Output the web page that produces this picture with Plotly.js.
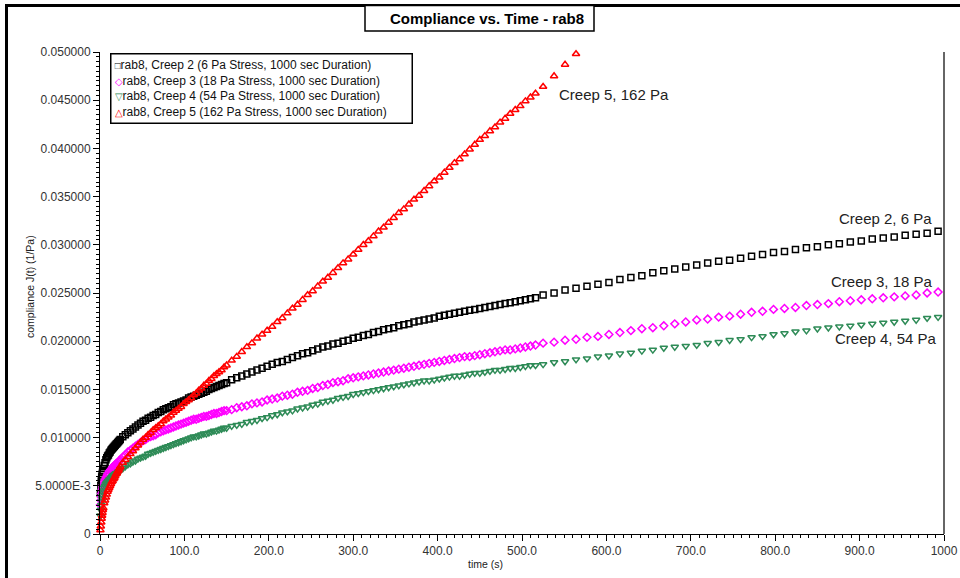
<!DOCTYPE html>
<html>
<head>
<meta charset="utf-8">
<script src="https://cdn.plot.ly/plotly-3.0.1.min.js"></script>
<style>html,body{margin:0;padding:0;background:#fff;overflow:hidden;}</style>
</head>
<body>
<div id="chart" style="width:960px;height:578px;"></div>
<script>
// ---------- DATA ----------
const time = [
  0.5, 1, 1.5, 2, 2.5, 3, 3.5, 4, 5, 6, 7, 8, 9, 10, 11, 12, 13, 14, 15, 16, 17, 18, 19, 20, 21, 22, 23,
  24, 27, 30, 33, 36, 39, 42, 45, 48, 51,
  54, 57, 60, 63, 66, 69, 72, 75, 78, 81,
  84, 87, 90, 93, 96, 99, 102, 105, 108, 111,
  114, 117, 120, 123, 126, 129, 132, 135, 138, 141,
  144, 147, 150,
  156, 162, 168, 174, 180, 186, 192, 198,
  204, 210, 216, 222, 228, 234, 240, 246, 252, 258,
  264, 270, 276, 282, 288, 294, 300, 306, 312, 318,
  324, 330, 336, 342, 348, 354, 360, 366, 372, 378,
  384, 390, 396, 402, 408, 414, 420, 426, 432, 438,
  444, 450, 456, 462, 468, 474, 480, 486, 492, 498,
  504, 510, 516,
  525, 538, 551, 564, 577, 590, 603, 616, 629, 642,
  655, 668, 681, 694, 707, 720, 733, 746, 759, 772,
  785, 798, 811, 824, 837, 850, 863, 876, 889, 902,
  915, 928, 941, 954, 967, 980, 993
];

const creep2 = [
  0.0042, 0.0050, 0.0055, 0.0059, 0.0062, 0.0064, 0.0066, 0.0068, 0.0071, 0.0074, 0.0077, 0.0079, 0.0081, 0.0082,
  0.0084, 0.0085, 0.0087, 0.0088, 0.0089, 0.0090, 0.0091, 0.0092, 0.0093, 0.0094, 0.0095, 0.0096, 0.0097,
  0.0098, 0.0101, 0.0103, 0.0105, 0.0107, 0.0109, 0.0111, 0.0113, 0.0115, 0.0117,
  0.0118, 0.0120, 0.0121, 0.0123, 0.0124, 0.0126, 0.0127, 0.0129, 0.0130, 0.0131,
  0.0132, 0.0134, 0.0135, 0.0136, 0.0137, 0.0138, 0.0139, 0.0141, 0.0142, 0.0143,
  0.0144, 0.0145, 0.0146, 0.0147, 0.0148, 0.0150, 0.0151, 0.0152, 0.0153, 0.0154,
  0.0155, 0.0156, 0.0157,
  0.0160, 0.0162, 0.0164, 0.0166, 0.0168, 0.0170, 0.0172, 0.0174,
  0.0176, 0.0178, 0.0179, 0.0181, 0.0183, 0.0185, 0.0187, 0.0188, 0.0190, 0.0192,
  0.0194, 0.0195, 0.0197, 0.0198, 0.0200, 0.0201, 0.0203, 0.0204, 0.0206, 0.0207,
  0.0209, 0.0210, 0.0212, 0.0213, 0.0214, 0.0216, 0.0217, 0.0218, 0.0220, 0.0221,
  0.0222, 0.0223, 0.0224, 0.0226, 0.0227, 0.0228, 0.0229, 0.0230, 0.0231, 0.0232,
  0.0233, 0.0234, 0.0235, 0.0236, 0.0237, 0.0238, 0.0239, 0.0240, 0.0241, 0.0242,
  0.0243, 0.0244, 0.0245,
  0.0248, 0.0250, 0.0253, 0.0255, 0.0257, 0.0259, 0.0261, 0.0264, 0.0266, 0.0268,
  0.0271, 0.0273, 0.0275, 0.0277, 0.0279, 0.0281, 0.0283, 0.0284, 0.0286, 0.0288,
  0.0290, 0.0292, 0.0293, 0.0295, 0.0297, 0.0298, 0.0300, 0.0301, 0.0303, 0.0304,
  0.0306, 0.0307, 0.0308, 0.0310, 0.0311, 0.0312, 0.0314
];

const creep3 = [
  0.0030, 0.0035, 0.0039, 0.0042, 0.0045, 0.0047, 0.0049, 0.0051, 0.0054, 0.0056, 0.0058, 0.0060, 0.0062, 0.0063,
  0.0065, 0.0066, 0.0067, 0.0068, 0.0069, 0.0070, 0.0071, 0.0072, 0.0073, 0.0073, 0.0074, 0.0075, 0.0076,
  0.0077, 0.0080, 0.0082, 0.0085, 0.0087, 0.0089, 0.0091, 0.0093, 0.0095, 0.0097,
  0.0098, 0.0100, 0.0101, 0.0102, 0.0103, 0.0105, 0.0106, 0.0107, 0.0108, 0.0109,
  0.0110, 0.0111, 0.0112, 0.0113, 0.0114, 0.0115, 0.0116, 0.0117, 0.0118, 0.0119,
  0.0119, 0.0120, 0.0121, 0.0122, 0.0122, 0.0123, 0.0124, 0.0125, 0.0125, 0.0126,
  0.0127, 0.0128, 0.0128,
  0.0129, 0.0131, 0.0132, 0.0133, 0.0135, 0.0136, 0.0137, 0.0139,
  0.0140, 0.0141, 0.0143, 0.0144, 0.0145, 0.0147, 0.0148, 0.0149, 0.0151, 0.0152,
  0.0154, 0.0155, 0.0157, 0.0158, 0.0159, 0.0161, 0.0162, 0.0163, 0.0164, 0.0165,
  0.0166, 0.0167, 0.0168, 0.0169, 0.0170, 0.0171, 0.0172, 0.0173, 0.0174, 0.0175,
  0.0176, 0.0177, 0.0178, 0.0179, 0.0180, 0.0181, 0.0182, 0.0183, 0.0184, 0.0184,
  0.0185, 0.0186, 0.0187, 0.0188, 0.0189, 0.0190, 0.0191, 0.0191, 0.0192, 0.0193,
  0.0194, 0.0195, 0.0196,
  0.0198, 0.0199, 0.0201, 0.0202, 0.0204, 0.0205, 0.0207, 0.0209, 0.0211, 0.0213,
  0.0214, 0.0216, 0.0218, 0.0220, 0.0222, 0.0223, 0.0225, 0.0226, 0.0228, 0.0230,
  0.0231, 0.0233, 0.0234, 0.0235, 0.0237, 0.0238, 0.0239, 0.0241, 0.0242, 0.0243,
  0.0244, 0.0245, 0.0246, 0.0247, 0.0248, 0.0250, 0.0251
];

const creep4 = [
  0.0019, 0.0025, 0.0030, 0.0034, 0.0037, 0.0040, 0.0043, 0.0045, 0.0048, 0.0050, 0.0052, 0.0053, 0.0054, 0.0055,
  0.0056, 0.0057, 0.0058, 0.0059, 0.0060, 0.0061, 0.0061, 0.0062, 0.0063, 0.0063, 0.0064, 0.0065, 0.0065,
  0.0066, 0.0068, 0.0070, 0.0072, 0.0073, 0.0075, 0.0076, 0.0078, 0.0079, 0.0080,
  0.0081, 0.0083, 0.0084, 0.0085, 0.0086, 0.0087, 0.0088, 0.0089, 0.0090, 0.0091,
  0.0092, 0.0093, 0.0094, 0.0095, 0.0096, 0.0097, 0.0098, 0.0099, 0.0100, 0.0101,
  0.0101, 0.0102, 0.0103, 0.0104, 0.0104, 0.0105, 0.0106, 0.0107, 0.0107, 0.0108,
  0.0109, 0.0110, 0.0110,
  0.0112, 0.0113, 0.0114, 0.0116, 0.0117, 0.0118, 0.0120, 0.0121,
  0.0123, 0.0124, 0.0126, 0.0127, 0.0128, 0.0130, 0.0131, 0.0132, 0.0134, 0.0135,
  0.0137, 0.0138, 0.0139, 0.0141, 0.0142, 0.0143, 0.0145, 0.0146, 0.0147, 0.0148,
  0.0149, 0.0150, 0.0151, 0.0152, 0.0153, 0.0154, 0.0155, 0.0156, 0.0157, 0.0158,
  0.0159, 0.0159, 0.0160, 0.0161, 0.0162, 0.0163, 0.0164, 0.0164, 0.0165, 0.0166,
  0.0167, 0.0167, 0.0168, 0.0169, 0.0170, 0.0170, 0.0171, 0.0172, 0.0172, 0.0173,
  0.0174, 0.0175, 0.0175,
  0.0176, 0.0178, 0.0179, 0.0181, 0.0182, 0.0184, 0.0185, 0.0187, 0.0188, 0.0190,
  0.0191, 0.0193, 0.0194, 0.0195, 0.0196, 0.0198, 0.0199, 0.0201, 0.0202, 0.0204,
  0.0205, 0.0207, 0.0208, 0.0210, 0.0211, 0.0213, 0.0214, 0.0215, 0.0216, 0.0217,
  0.0218, 0.0219, 0.0220, 0.0221, 0.0222, 0.0224, 0.0225
];

// Creep 5 leaves the plotted range after ~564 s, so it has fewer points
const creep5 = [
  0.0004, 0.0008, 0.0012, 0.0016, 0.0019, 0.0022, 0.0025, 0.0027, 0.0032, 0.0035, 0.0038, 0.0041, 0.0044, 0.0046,
  0.0048, 0.0050, 0.0052, 0.0054, 0.0055, 0.0057, 0.0058, 0.0060, 0.0062, 0.0063, 0.0065, 0.0066, 0.0068,
  0.0070, 0.0074, 0.0077, 0.0080, 0.0083, 0.0086, 0.0089, 0.0092, 0.0095, 0.0098,
  0.0100, 0.0103, 0.0105, 0.0108, 0.0110, 0.0112, 0.0114, 0.0117, 0.0119, 0.0121,
  0.0123, 0.0126, 0.0128, 0.0130, 0.0132, 0.0135, 0.0137, 0.0139, 0.0141, 0.0144,
  0.0146, 0.0149, 0.0151, 0.0154, 0.0156, 0.0159, 0.0161, 0.0164, 0.0166, 0.0168,
  0.0170, 0.0173, 0.0175,
  0.0180, 0.0184, 0.0189, 0.0194, 0.0198, 0.0203, 0.0207, 0.0211,
  0.0215, 0.0220, 0.0224, 0.0229, 0.0234, 0.0238, 0.0243, 0.0248, 0.0252, 0.0257,
  0.0262, 0.0266, 0.0271, 0.0276, 0.0281, 0.0285, 0.0290, 0.0295, 0.0300, 0.0304,
  0.0309, 0.0314, 0.0318, 0.0323, 0.0328, 0.0333, 0.0337, 0.0342, 0.0347, 0.0351,
  0.0356, 0.0361, 0.0366, 0.0370, 0.0375, 0.0380, 0.0385, 0.0389, 0.0394, 0.0399,
  0.0404, 0.0409, 0.0413, 0.0418, 0.0422, 0.0427, 0.0431, 0.0436, 0.0440, 0.0444,
  0.0449, 0.0453, 0.0457,
  0.0464, 0.0475, 0.0487, 0.0498
];

const seriesNames = [
  'rab8, Creep 2 (6 Pa Stress, 1000 sec Duration)',
  'rab8, Creep 3 (18 Pa Stress, 1000 sec Duration)',
  'rab8, Creep 4 (54 Pa Stress, 1000 sec Duration)',
  'rab8, Creep 5 (162 Pa Stress, 1000 sec Duration)'
];
const curveLabels = ['Creep 2, 6 Pa', 'Creep 3, 18 Pa', 'Creep 4, 54 Pa', 'Creep 5, 162 Pa'];
const titleText = 'Compliance vs. Time - rab8';
const xTitle = 'time (s)';
const yTitle = 'compliance J(t) (1/Pa)';

const xTickVals = [0, 100, 200, 300, 400, 500, 600, 700, 800, 900, 1000];
const xTickText = ['0', '100.0', '200.0', '300.0', '400.0', '500.0', '600.0', '700.0', '800.0', '900.0', '1000'];
const yTickVals = [0, 0.005, 0.010, 0.015, 0.020, 0.025, 0.030, 0.035, 0.040, 0.045, 0.050];
const yTickText = ['0', '5.0000E-3', '0.010000', '0.015000', '0.020000', '0.025000', '0.030000',
                   '0.035000', '0.040000', '0.045000', '0.050000'];

// ---------- STYLE ----------
const FONT = 'Arial, "Liberation Sans", sans-serif';
const colors = ['#000000', '#ff00ff', '#2e8b57', '#ff0000'];
const symbols = ['square-open', 'diamond-open', 'triangle-down-open', 'triangle-up-open'];
const sizes = [6, 6, 6.5, 6.5];
const glyphs = ['\u25A1', '\u25C7', '\u25BD', '\u25B3'];

const W = 960, H = 578, L = 100, R = 944, T = 52, B = 534;
const px = p => (p - L) / (R - L);     // pixel -> paper x (decorations only)
const py = p => (B - p) / (B - T);     // pixel -> paper y

const ys = [creep2, creep3, creep4, creep5];
const traces = ys.map((y, i) => ({
  type: 'scatter',
  mode: 'markers',
  name: seriesNames[i],
  x: time.slice(0, y.length),
  y: y,
  cliponaxis: false,
  marker: {symbol: symbols[i], size: sizes[i], color: colors[i], line: {width: 1.5, color: colors[i]}},
  hoverinfo: 'x+y+name'
}));

const legendText = seriesNames.map((n, i) =>
  '<span style="font-size:10px;color:' + colors[i] + '">' + glyphs[i] + '</span>' + n).join('<br>');

const layout = {
  width: W, height: H, autosize: false,
  margin: {l: L, r: W - R, t: T, b: H - B, pad: 0},
  paper_bgcolor: '#ffffff', plot_bgcolor: '#ffffff',
  font: {family: FONT, color: '#222'},
  showlegend: false,
  title: {
    text: '<b>' + titleText + '</b>',
    font: {family: FONT, size: 15, color: '#000'},
    xref: 'paper', x: px(487), xanchor: 'center',
    yref: 'container', y: 1 - 19 / H, yanchor: 'middle'
  },
  xaxis: {
    range: [0, 1000], tickmode: 'array', tickvals: xTickVals, ticktext: xTickText,
    ticks: 'outside', ticklen: 6, tickwidth: 1, tickcolor: '#000',
    showline: true, linecolor: '#000', linewidth: 1, showgrid: false, zeroline: false,
    tickfont: {family: FONT, size: 12, color: '#333'},
    minor: {tickmode: 'linear', tick0: 0, dtick: 10, ticks: 'outside', ticklen: 3, tickwidth: 1, tickcolor: '#000', showgrid: false},
    fixedrange: true
  },
  yaxis: {
    range: [0, 0.05], tickmode: 'array', tickvals: yTickVals, ticktext: yTickText,
    ticks: 'outside', ticklen: 6, tickwidth: 1, tickcolor: '#000',
    showline: true, linecolor: '#000', linewidth: 1, showgrid: false, zeroline: false,
    tickfont: {family: FONT, size: 12, color: '#333'},
    minor: {tickmode: 'linear', tick0: 0, dtick: 0.0005, ticks: 'outside', ticklen: 3, tickwidth: 1, tickcolor: '#000', showgrid: false},
    fixedrange: true
  },
  shapes: [
    // outer frame: only its left and top edges are inside the picture
    {type: 'line', xref: 'paper', yref: 'paper', x0: px(6.5), x1: px(6.5), y0: py(578), y1: py(4),
     line: {color: '#000', width: 3}, layer: 'below'},
    {type: 'line', xref: 'paper', yref: 'paper', x0: px(5), x1: px(960), y0: py(5.5), y1: py(5.5),
     line: {color: '#000', width: 3}, layer: 'below'},
    // title box
    {type: 'rect', xref: 'paper', yref: 'paper', x0: px(365), x1: px(594), y0: py(31), y1: py(5.5),
     line: {color: '#000', width: 1.5}, fillcolor: '#fff', layer: 'below'},
    // right border line of the plot
    {type: 'line', xref: 'paper', yref: 'paper', x0: 1, x1: 1, y0: 0, y1: 1,
     line: {color: '#666', width: 2}}
  ],
  annotations: [
    // legend box
    {xref: 'paper', yref: 'paper', x: px(110), y: py(53), xanchor: 'left', yanchor: 'top',
     text: legendText, showarrow: false, align: 'left', valign: 'middle',
     font: {family: FONT, size: 12, color: '#111'},
     bordercolor: '#000', borderwidth: 1.5, borderpad: 3, bgcolor: '#fff', width: 294, height: 62},
    // axis titles
    {xref: 'paper', yref: 'paper', x: px(485), y: py(564), xanchor: 'center', yanchor: 'middle',
     text: xTitle, showarrow: false, font: {family: FONT, size: 10.5, color: '#222'}},
    {xref: 'paper', yref: 'paper', x: px(30), y: py(287), xanchor: 'center', yanchor: 'middle',
     text: yTitle, textangle: -90, showarrow: false, font: {family: FONT, size: 10.5, color: '#222'}},
    // curve labels
    {x: 988, y: 0.03278, xanchor: 'right', yanchor: 'middle', text: curveLabels[0], showarrow: false,
     font: {family: FONT, size: 15, color: '#222'}},
    {x: 989, y: 0.02624, xanchor: 'right', yanchor: 'middle', text: curveLabels[1], showarrow: false,
     font: {family: FONT, size: 15, color: '#222'}},
    {x: 994, y: 0.02023, xanchor: 'right', yanchor: 'middle', text: curveLabels[2], showarrow: false,
     font: {family: FONT, size: 15, color: '#222'}},
    {x: 541, y: 0.04554, xanchor: 'left', yanchor: 'middle', text: curveLabels[3], showarrow: false,
     font: {family: FONT, size: 15, color: '#222'}}
  ]
};

Plotly.newPlot('chart', traces, layout, {displayModeBar: false, staticPlot: true});
</script>
</body>
</html>
